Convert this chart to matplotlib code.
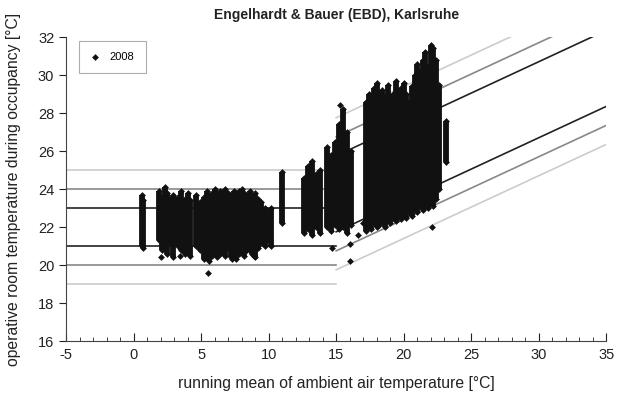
import matplotlib.pyplot as plt
from matplotlib.ticker import MultipleLocator

plt.rcParams["font.family"] = ["Liberation Sans", "DejaVu Sans"]
plt.rcParams["axes.unicode_minus"] = False

# daily columns of hourly values: running mean, lowest and highest operative temp
col_x = [0.6, 0.7, 1.9, 2.1, 2.3, 2.5, 2.7, 2.9, 3.3, 3.5, 3.8, 4.0, 4.2, 4.6, 4.9,
         5.2, 5.4, 5.6, 5.8, 6.0, 6.2, 6.4, 6.6, 6.8, 7.0, 7.2, 7.4, 7.6, 7.8, 8.0,
         8.2, 8.4, 8.6, 8.8, 9.0, 9.2, 9.4, 9.7, 9.9, 10.2, 11.0,
         12.6, 12.9, 13.2, 13.5, 13.8, 14.3, 14.6, 14.9, 15.2, 15.5, 15.8, 16.1,
         17.2, 17.4, 17.6, 17.8, 18.0, 18.2, 18.4, 18.6, 18.8, 19.0, 19.2, 19.4,
         19.6, 19.8, 20.0, 20.2, 20.4, 20.6, 20.8, 21.0, 21.2, 21.4, 21.6, 21.8,
         22.0, 22.2, 22.4, 22.6, 23.1]
col_lo = [21.0, 20.9, 21.3, 20.8, 21.0, 20.6, 21.2, 20.4, 21.0, 20.8, 20.6, 21.2, 20.5, 21.0, 20.8,
          20.3, 20.6, 20.2, 20.5, 20.7, 20.4, 20.6, 20.8, 20.5, 20.9, 20.4, 20.7, 20.3, 20.6, 21.0,
          20.5, 20.8, 21.1, 20.6, 20.4, 20.9, 21.2, 21.0, 21.3, 21.0, 22.2,
          21.7, 21.9, 21.6, 22.0, 21.7, 22.0, 21.8, 22.1, 21.9, 22.0, 21.7, 22.1,
          21.8, 22.0, 21.9, 22.2, 22.0, 22.1, 22.3, 22.0, 22.4, 22.2, 22.5, 22.3,
          22.6, 22.4, 22.7, 22.5, 22.8, 22.6, 23.0, 22.8, 23.1, 22.9, 23.2, 23.0,
          23.3, 23.1, 23.5, 24.0, 25.4]
col_hi = [23.7, 23.4, 23.9, 23.6, 24.1, 23.8, 23.5, 23.7, 23.6, 23.9, 23.5, 23.8, 23.4, 23.7, 23.3,
          23.6, 23.9, 23.5, 23.8, 24.0, 23.7, 23.9, 23.6, 24.0, 23.8, 23.7, 23.9, 23.8, 23.9, 24.0,
          23.8, 23.7, 23.9, 23.6, 23.8, 23.5, 23.3, 23.0, 22.8, 23.0, 24.9,
          24.6, 25.2, 25.5, 24.8, 25.0, 26.2, 25.8, 26.5, 27.4, 28.2, 27.0, 26.0,
          28.6, 29.0, 28.4, 29.3, 29.6, 28.8, 29.2, 28.9, 29.5, 28.7, 29.0, 29.7,
          28.8, 29.3, 29.6, 29.0, 28.6, 29.4, 30.0, 30.6, 30.2, 30.8, 31.2, 30.5,
          31.6, 31.4, 30.8, 29.5, 27.6]

# single hours away from the daily columns
pt_x = [5.5, 2.0, 3.4, 7.3, 8.9, 14.7, 16.0, 16.0, 15.3, 22.1, 17.0, 16.6]
pt_y = [19.6, 20.4, 20.5, 20.3, 20.5, 20.9, 21.1, 20.2, 28.4, 22.0, 22.2, 21.6]

# comfort category boundaries (light = III, grey = II, black = I)
band_colors = ["#cccccc", "#888888", "#222222", "#222222", "#888888", "#cccccc"]
flat_y = [25, 24, 23, 21, 20, 19]
slope_x0, slope_x1 = 15, 35
slope_y0 = [27.75, 26.75, 25.75, 21.75, 20.75, 19.75]
slope_y1 = [34.35, 33.35, 32.35, 28.35, 27.35, 26.35]

fig = plt.figure(figsize=(6.18, 3.98), dpi=100)
ax = fig.add_axes([0.107, 0.143, 0.874, 0.764])

for c, fy, y0, y1 in zip(band_colors, flat_y, slope_y0, slope_y1):
    ax.plot([-5, 15], [fy, fy], color=c, lw=1.2, zorder=1)
    ax.plot([slope_x0, slope_x1], [y0, y1], color=c, lw=1.2, zorder=1)

ax.vlines(col_x, col_lo, col_hi, color="#111111", lw=4.2, zorder=2)
ax.scatter(col_x, col_lo, marker="D", s=12, color="#111111", zorder=3, lw=0)
ax.scatter(col_x, col_hi, marker="D", s=12, color="#111111", zorder=3, lw=0)
ax.scatter(pt_x, pt_y, marker="D", s=12, color="#111111", zorder=3, lw=0,
           label="2008")

ax.set_xlim(-5, 35)
ax.set_ylim(16, 32)
ax.xaxis.set_major_locator(MultipleLocator(5))
ax.xaxis.set_minor_locator(MultipleLocator(1))
ax.yaxis.set_major_locator(MultipleLocator(2))
ax.tick_params(axis="x", which="major", direction="in", length=6, labelsize=10.5,
               colors="#222222", pad=5)
ax.tick_params(axis="x", which="minor", direction="in", length=3, color="#222222")
ax.tick_params(axis="y", which="major", direction="out", length=5, labelsize=10.5,
               colors="#222222")
for s in ["top", "right"]:
    ax.spines[s].set_visible(False)
for s in ["left", "bottom"]:
    ax.spines[s].set_color("#444444")

ax.set_xlabel("running mean of ambient air temperature [°C]", fontsize=11.3,
              color="#222222", labelpad=10)
ax.set_ylabel("operative room temperature during occupancy [°C]", fontsize=11.3,
              color="#222222", labelpad=12)
ax.set_title("Engelhardt & Bauer (EBD), Karlsruhe", fontsize=10, fontweight="bold",
             color="#222222", pad=13)

leg = ax.legend(loc="upper left", bbox_to_anchor=(0.013, 1.005), fontsize=8,
                frameon=True, fancybox=False, edgecolor="#999999",
                handlelength=1.0, handletextpad=0.8, borderpad=1.0, markerscale=1.0)
leg.get_frame().set_linewidth(0.8)

plt.savefig("out.png", dpi=100)
